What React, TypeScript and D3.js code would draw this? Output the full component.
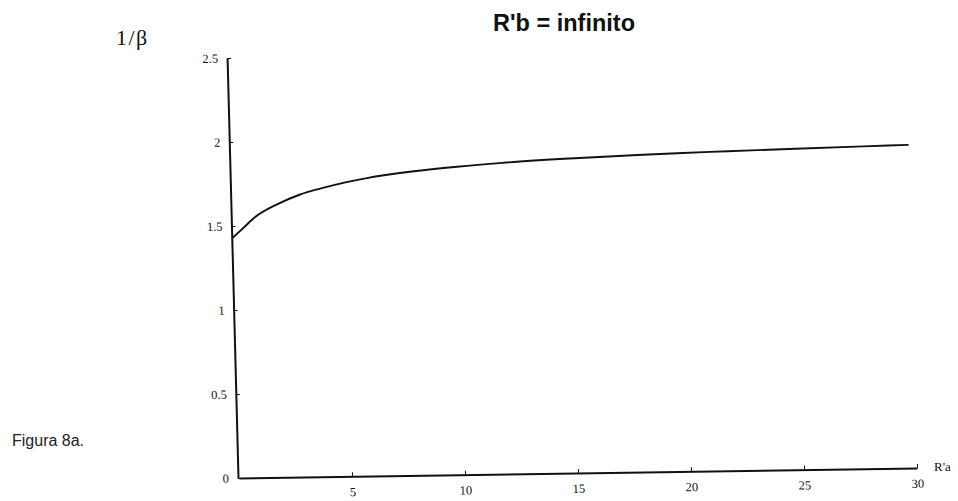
import React, { useEffect, useRef } from "react";
import * as d3 from "d3";

// Data
const raValues = [0, 0.5, 1, 2, 3, 4, 5, 6, 8, 10, 12, 15, 18, 20, 22, 25, 28, 30];
const invBetaValues = [1.43, 1.49, 1.55, 1.625, 1.68, 1.717, 1.748, 1.773, 1.808, 1.833, 1.852, 1.872, 1.887, 1.895, 1.901, 1.91, 1.918, 1.923];
const xTickValues = [5, 10, 15, 20, 25, 30];
const yTickValues = [0, 0.5, 1, 1.5, 2, 2.5];
const yTickLabels = ["0", "0.5", "1", "1.5", "2", "2.5"];

const W = 958;
const H = 501;
const ox = 238;
const oy = 478;

export default function App() {
  const xAxisRef = useRef<SVGGElement>(null);
  const yAxisRef = useRef<SVGGElement>(null);

  const x = d3.scaleLinear().domain([0, 30]).range([ox + 1, 917]);
  const y = d3.scaleLinear().domain([0, 2.5]).range([oy, 58]);

  const line = d3
    .line<number>()
    .x((_, i) => x(raValues[i]))
    .y((d) => y(d))
    .curve(d3.curveMonotoneX);

  useEffect(() => {
    if (xAxisRef.current) {
      const g = d3.select(xAxisRef.current);
      g.selectAll("*").remove();
      g.call(
        d3
          .axisBottom(x)
          .tickValues(xTickValues)
          .tickSizeInner(-4)
          .tickSizeOuter(0)
          .tickPadding(11)
          .tickFormat((d) => String(d))
      );
      g.select(".domain").attr("stroke", "#111").attr("stroke-width", 2);
      g.selectAll(".tick line").attr("stroke", "#111").attr("stroke-width", 1);
      g.selectAll(".tick text")
        .attr("fill", "#111")
        .attr("font-family", "'Liberation Serif', 'DejaVu Serif', serif")
        .attr("font-size", 12.5);
    }
    if (yAxisRef.current) {
      const g = d3.select(yAxisRef.current);
      g.selectAll("*").remove();
      g.call(
        d3
          .axisLeft(y)
          .tickValues(yTickValues)
          .tickSizeInner(-4)
          .tickSizeOuter(0)
          .tickPadding(9)
          .tickFormat((_, i) => yTickLabels[i])
      );
      g.select(".domain").attr("stroke", "#111").attr("stroke-width", 2);
      g.selectAll(".tick line").attr("stroke", "#111").attr("stroke-width", 1);
      g.selectAll(".tick text")
        .attr("fill", "#111")
        .attr("font-family", "'Liberation Serif', 'DejaVu Serif', serif")
        .attr("font-size", 12.5);
    }
  }, []);

  // slight scan distortion: x-axis rises to the right, y-axis leans left
  const plotTransform = `translate(${ox}, ${oy}) matrix(1, -0.0148, 0.026, 1, 0, 0) translate(${-ox}, ${-oy})`;

  return (
    <svg
      width={W}
      height={H}
      style={{ position: "absolute", left: 0, top: 0, background: "#fff" }}
    >
      <rect x={0} y={0} width={W} height={H} fill="#fff" />
      <text
        x={564}
        y={31}
        textAnchor="middle"
        fontFamily="'Liberation Sans', Arial, sans-serif"
        fontWeight="bold"
        fontSize={23.5}
        fill="#111"
      >
        R'b = infinito
      </text>
      <text
        x={12}
        y={446}
        fontFamily="'Liberation Sans', Arial, sans-serif"
        fontSize={16}
        fill="#222"
      >
        Figura 8a.
      </text>
      <text
        x={116}
        y={45}
        fontFamily="'Liberation Serif', 'DejaVu Serif', serif"
        fontSize={22}
        letterSpacing={1.5}
        fill="#111"
      >
        1/β
      </text>
      <text
        x={934}
        y={471}
        fontFamily="'Liberation Serif', 'DejaVu Serif', serif"
        fontSize={13}
        fill="#111"
      >
        R'a
      </text>
      <g transform={plotTransform}>
        <g ref={xAxisRef} transform={`translate(0, ${oy})`} />
        <g ref={yAxisRef} transform={`translate(${ox}, 0)`} />
        <path
          d={line(invBetaValues) || ""}
          fill="none"
          stroke="#111"
          strokeWidth={1.9}
        />
      </g>
    </svg>
  );
}
